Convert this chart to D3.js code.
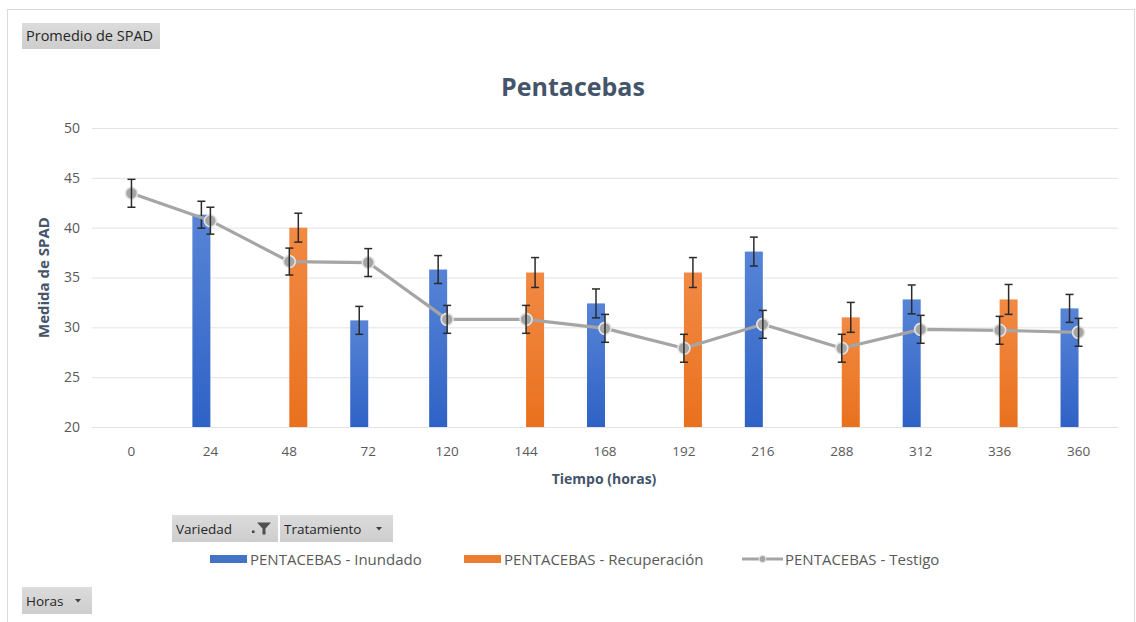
<!DOCTYPE html>
<html>
<head>
<meta charset="utf-8">
<script src="https://cdn.jsdelivr.net/npm/d3@7"></script>
<style>
  body { margin: 0; background: #fff; }
  svg { display: block; font-family: "Open Sans", "Noto Sans", sans-serif; }
</style>
</head>
<body>
<svg id="chart" width="1136" height="622"></svg>
<script>
// Sampling times (hours) and SPAD readings per treatment
const categories = ["0", "24", "48", "72", "120", "144", "168", "192", "216", "288", "312", "336", "360"];
const inundado = [null, 41.3, null, 30.7, 35.8, null, 32.4, null, 37.6, null, 32.8, null, 31.9];
const inundadoErr = [null, 1.35, null, 1.4, 1.4, null, 1.45, null, 1.45, null, 1.45, null, 1.4];
const recuperacion = [null, null, 40.0, null, null, 35.5, null, 35.5, null, 31.0, null, 32.8, null];
const recuperacionErr = [null, null, 1.45, null, null, 1.5, null, 1.5, null, 1.5, null, 1.5, null];
const testigo = [43.45, 40.7, 36.6, 36.5, 30.8, 30.8, 29.9, 27.9, 30.3, 27.9, 29.8, 29.7, 29.5];
const testigoErr = [1.4, 1.35, 1.35, 1.4, 1.4, 1.4, 1.4, 1.4, 1.4, 1.4, 1.4, 1.4, 1.4];
const yTicks = [20, 25, 30, 35, 40, 45, 50];
const barSeries = ["PENTACEBAS - Inundado", "PENTACEBAS - Recuperación"];
const lineSeries = "PENTACEBAS - Testigo";

const svg = d3.select("#chart");
const plot = { left: 92, right: 1118, top: 128, bottom: 427 };

const BLUE = "#4472C4", ORANGE = "#ED7D31", GREY = "#A5A5A5";
const TEXT = "#595959", TITLE = "#44546A", ERR = "#2b2b2b";

// gradients for the bars and buttons
const defs = svg.append("defs");
function grad(id, top, bottom) {
  const g = defs.append("linearGradient").attr("id", id)
    .attr("x1", 0).attr("y1", 0).attr("x2", 0).attr("y2", 1);
  g.append("stop").attr("offset", "0%").attr("stop-color", top);
  g.append("stop").attr("offset", "100%").attr("stop-color", bottom);
}
grad("gBlue", "#5784d6", "#2f62c6");
grad("gOrange", "#f18a44", "#e9711e");
grad("gBtn", "#dcdcdc", "#cdcdcd");

// chart frame
svg.append("rect").attr("x", 7.5).attr("y", 9.5).attr("width", 1127).attr("height", 640)
  .attr("fill", "#fff").attr("stroke", "#dadada");

// scales
const x = d3.scaleBand().domain(categories).range([plot.left, plot.right]).padding(0);
const sub = d3.scaleBand().domain(barSeries).range([0, x.bandwidth()])
  .paddingInner(0).paddingOuter((x.bandwidth() / 18 - 2) / 2);
const y = d3.scaleLinear().domain([20, 50]).range([plot.bottom, plot.top]);

// gridlines
svg.append("g").selectAll("line").data(yTicks).join("line")
  .attr("x1", plot.left).attr("x2", plot.right)
  .attr("y1", d => y(d) + 0.5).attr("y2", d => y(d) + 0.5)
  .attr("stroke", "#e3e3e3").attr("stroke-width", 1);

// y axis labels
const yAxis = svg.append("g").attr("transform", `translate(${plot.left - 12},0)`)
  .call(d3.axisLeft(y).tickValues(yTicks).tickSize(0).tickPadding(0));
yAxis.select(".domain").remove();
yAxis.selectAll("text").attr("fill", TEXT).style("font-size", "14px")
  .style("font-family", "'Open Sans', sans-serif");

// x axis labels
const xAxis = svg.append("g").attr("transform", `translate(0,${plot.bottom + 19})`)
  .call(d3.axisBottom(x).tickSize(0).tickPadding(0));
xAxis.select(".domain").remove();
xAxis.selectAll("text").attr("fill", TEXT).style("font-size", "13.5px")
  .style("font-family", "'Open Sans', sans-serif");

// bars
const barData = [];
categories.forEach((c, i) => {
  if (inundado[i] != null) barData.push({ c, s: barSeries[0], v: inundado[i], e: inundadoErr[i], fill: "url(#gBlue)" });
  if (recuperacion[i] != null) barData.push({ c, s: barSeries[1], v: recuperacion[i], e: recuperacionErr[i], fill: "url(#gOrange)" });
});
svg.append("g").selectAll("rect").data(barData).join("rect")
  .attr("x", d => x(d.c) + sub(d.s))
  .attr("width", sub.bandwidth())
  .attr("y", d => y(d.v))
  .attr("height", d => y(20) - y(d.v))
  .attr("fill", d => d.fill);

// error bars helper
function errorBars(g, data, cx) {
  const cap = 4;
  const eg = g.selectAll("g").data(data).join("g");
  eg.append("line").attr("x1", cx).attr("x2", cx)
    .attr("y1", d => y(d.v + d.e)).attr("y2", d => y(d.v - d.e));
  eg.append("line").attr("x1", d => cx(d) - cap).attr("x2", d => cx(d) + cap)
    .attr("y1", d => y(d.v + d.e)).attr("y2", d => y(d.v + d.e));
  eg.append("line").attr("x1", d => cx(d) - cap).attr("x2", d => cx(d) + cap)
    .attr("y1", d => y(d.v - d.e)).attr("y2", d => y(d.v - d.e));
  eg.selectAll("line").attr("stroke", ERR).attr("stroke-width", 1.5);
}
errorBars(svg.append("g"), barData, d => x(d.c) + sub(d.s) + sub.bandwidth() / 2);

// control line
const lineData = categories.map((c, i) => ({ c, v: testigo[i], e: testigoErr[i] }));
const cxLine = d => x(d.c) + x.bandwidth() / 2;
svg.append("path").datum(lineData)
  .attr("fill", "none").attr("stroke", GREY).attr("stroke-width", 3.2)
  .attr("stroke-linejoin", "round")
  .attr("d", d3.line().x(cxLine).y(d => y(d.v)));
svg.append("g").selectAll("circle").data(lineData).join("circle")
  .attr("cx", cxLine).attr("cy", d => y(d.v)).attr("r", 6)
  .attr("fill", GREY).attr("stroke", "#e4e4e4").attr("stroke-width", 1.6);
errorBars(svg.append("g"), lineData, cxLine);

// title and axis titles
svg.append("text").attr("x", 573).attr("y", 96).attr("text-anchor", "middle")
  .attr("fill", TITLE).style("font-size", "25px").style("font-weight", "bold")
  .text("Pentacebas");
svg.append("text").attr("transform", `translate(49,${(plot.top + plot.bottom) / 2}) rotate(-90)`)
  .attr("text-anchor", "middle").attr("fill", TITLE)
  .style("font-size", "15px").style("font-weight", "bold").text("Medida de SPAD");
svg.append("text").attr("x", 604).attr("y", 484)
  .attr("text-anchor", "middle").attr("fill", TITLE)
  .style("font-size", "14px").style("font-weight", "bold").text("Tiempo (horas)");

// pivot field buttons
function button(x0, y0, w, h, label, icon, fs) {
  const g = svg.append("g");
  g.append("rect").attr("x", x0).attr("y", y0).attr("width", w).attr("height", h).attr("fill", "url(#gBtn)");
  g.append("text").attr("x", x0 + 4).attr("y", y0 + h / 2 + 5).attr("fill", "#262626")
    .style("font-size", fs || "13.5px").text(label);
  const ax = x0 + w - 14, ay = y0 + h / 2;
  if (icon === "arrow") {
    g.append("path").attr("d", `M${ax - 3},${ay - 1.5}L${ax + 3},${ay - 1.5}L${ax},${ay + 2}Z`).attr("fill", "#404040");
  } else if (icon === "filter") {
    g.append("rect").attr("x", ax - 12).attr("y", ay + 2).attr("width", 2.5).attr("height", 2.5).attr("fill", "#404040");
    g.append("path").attr("d", `M${ax - 7},${ay - 6}L${ax + 7},${ay - 6}L${ax + 1.5},${ay}L${ax + 1.5},${ay + 6}L${ax - 1.5},${ay + 6}L${ax - 1.5},${ay}Z`)
      .attr("fill", "#505050");
  }
}
button(22, 23, 138, 26, "Promedio de SPAD", null, "14.5px");
button(172, 515, 106, 27, "Variedad", "filter");
button(280, 515, 113, 27, "Tratamiento", "arrow");
button(22, 587, 70, 27, "Horas", "arrow");

// legend
const leg = svg.append("g").style("font-size", "15px");
const legY = 559;
leg.append("rect").attr("x", 210).attr("y", legY - 4).attr("width", 37).attr("height", 8).attr("fill", BLUE);
leg.append("text").attr("x", 250).attr("y", legY + 5.5).attr("fill", TEXT).text(barSeries[0]);
leg.append("rect").attr("x", 464).attr("y", legY - 4).attr("width", 37).attr("height", 8).attr("fill", ORANGE);
leg.append("text").attr("x", 504).attr("y", legY + 5.5).attr("fill", TEXT).text(barSeries[1]);
leg.append("line").attr("x1", 742).attr("x2", 783).attr("y1", legY).attr("y2", legY)
  .attr("stroke", GREY).attr("stroke-width", 3.2);
leg.append("circle").attr("cx", 762.5).attr("cy", legY).attr("r", 3.5)
  .attr("fill", GREY).attr("stroke", "#e4e4e4").attr("stroke-width", 1);
leg.append("text").attr("x", 785).attr("y", legY + 5.5).attr("fill", TEXT).text(lineSeries);
</script>
</body>
</html>
